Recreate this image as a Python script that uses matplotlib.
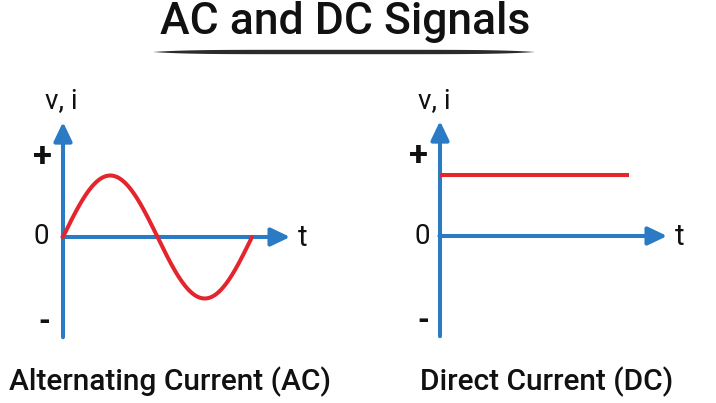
import numpy as np
import matplotlib
matplotlib.use("Agg")
import matplotlib.pyplot as plt

# ---------------- data ----------------
title = "AC and DC Signals"
panel_titles = ["Alternating Current (AC)", "Direct Current (DC)"]
t_ac = np.linspace(0, 2 * np.pi, 400)
v_ac = np.sin(t_ac)
t_dc = [0.0, 2 * np.pi]
v_dc = [1.0, 1.0]
level_labels = ["+", "0", "-"]
level_values = [1.29, 0.0, -1.38]
y_axis_label = "v, i"
x_axis_label = "t"

# ---------------- style ----------------
BLUE = "#2a7bc4"
RED = "#e5252d"
TXT = "#111111"
FONT = "Roboto"

W, H = 716, 403
fig = plt.figure(figsize=(W / 100, H / 100), dpi=100)
fig.patch.set_facecolor("white")

sx = 189 / (2 * np.pi)   # px per data unit (x)
sy = 61.5                # px per data unit (y)

origins = [(63, 237), (440, 236)]
# per-panel label x offsets (px) for +, 0, -
lvl_dx = [[-21, -22, -19], [-21, -18, -17]]
lvl_size = [25, 20, 22]
lvl_weight = ["bold", "normal", "bold"]
vi_dx = [-1.5, -5.5]

x_tip = 7.55
y_top = 1.87
y_bot = -1.63

for k, (ox, oy) in enumerate(origins):
    left_px, right_px = ox - 55, ox + 265
    top_px, bot_px = 70, 350
    ax = fig.add_axes([left_px / W, 1 - bot_px / H,
                       (right_px - left_px) / W, (bot_px - top_px) / H])
    ax.set_xlim((left_px - ox) / sx, (right_px - ox) / sx)
    ax.set_ylim((oy - bot_px) / sy, (oy - top_px) / sy)
    ax.axis("off")

    arrow_kw = dict(arrowstyle="-|>,head_length=1.15,head_width=0.55",
                    color=BLUE, lw=2.9, mutation_scale=10,
                    shrinkA=0, shrinkB=0)
    ax.annotate("", xy=(0, y_top), xytext=(0, y_bot), arrowprops=arrow_kw)
    ax.annotate("", xy=(x_tip, 0), xytext=(-0.02, 0), arrowprops=arrow_kw)

    if k == 0:
        ax.plot(t_ac, v_ac, color=RED, lw=2.9, solid_capstyle="round", zorder=3)
    else:
        ax.plot(t_dc, v_dc, color=RED, lw=2.9, solid_capstyle="butt", zorder=3)

    for lab, val, dx, fs, fw in zip(level_labels, level_values, lvl_dx[k],
                                    lvl_size, lvl_weight):
        ax.text(dx / sx, val, lab, ha="center", va="center",
                fontsize=fs, fontweight=fw, color=TXT, family=FONT)
    ax.text(vi_dx[k] / sx, (oy - 108) / sy, y_axis_label, ha="center",
            va="baseline", fontsize=20, color=TXT, family=FONT)
    ax.text(240 / sx, -0.02, x_axis_label, ha="center", va="center",
            fontsize=21, color=TXT, family=FONT)

# bottom labels
for cx, lab in zip([170, 547], panel_titles):
    fig.text(cx / W, 1 - 390 / H, lab, ha="center", va="baseline",
             fontsize=21.5, color=TXT, family=FONT, fontweight=500)

# title
fig.text(345 / W, 1 - 34 / H, title, ha="center", va="baseline",
         fontsize=32, color=TXT, family=FONT, fontweight=500)

# tapered underline
u = np.linspace(0, 1, 300)
xs = 153 + u * (535 - 153)
half = 2.2 * (1 - (2 * u - 1) ** 6)
yc = 52
xx = np.concatenate([xs, xs[::-1]]) / W
yy = 1 - np.concatenate([yc - half, (yc + half)[::-1]]) / H
fig.patches.append(plt.Polygon(np.column_stack([xx, yy]), closed=True,
                               transform=fig.transFigure, facecolor="#2b2b2b",
                               edgecolor="none"))

fig.savefig("out.png", dpi=100, facecolor="white")
